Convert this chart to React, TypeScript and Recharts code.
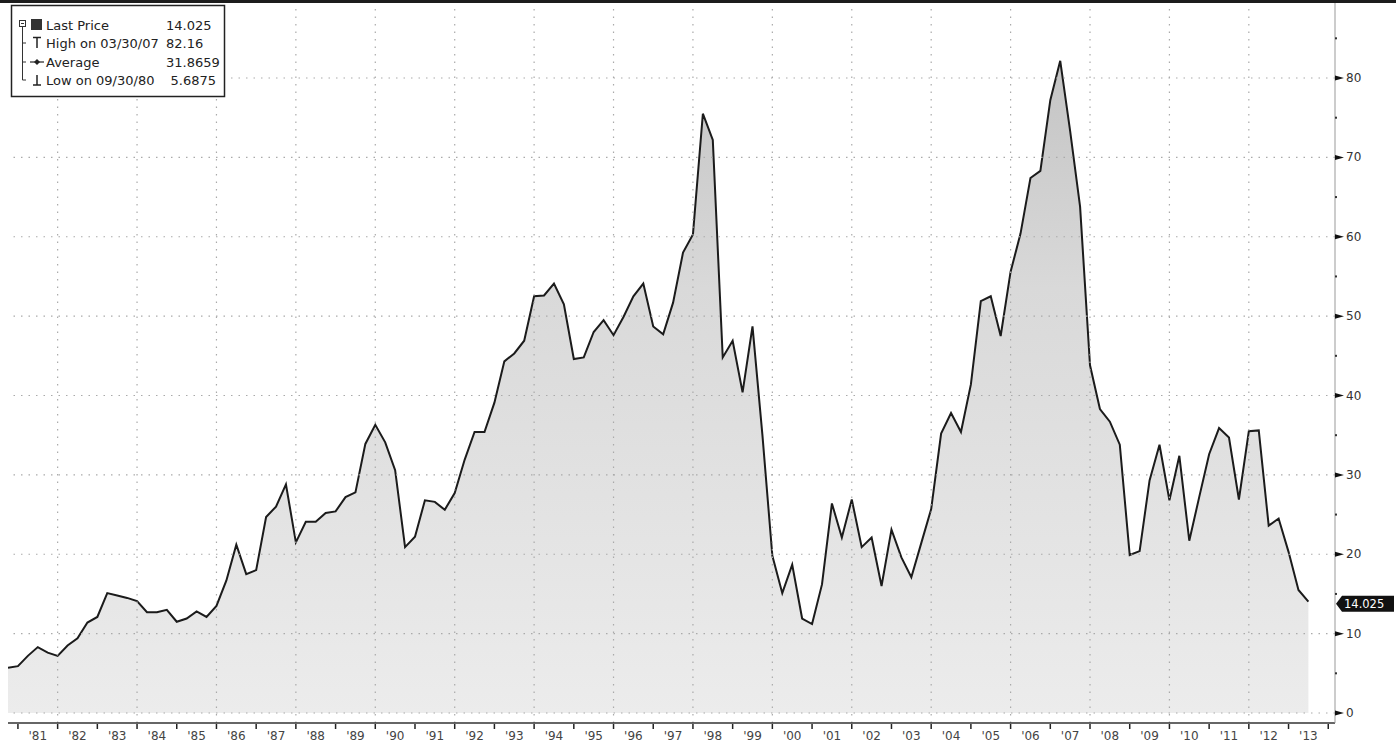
import React from 'react';
import { ComposedChart, Area, XAxis, YAxis, ReferenceLine } from 'recharts';

// quarterly closes, first point is the quarter ending 09/30/80
const firstQuarterEnd = 1980.75;

const prices1980s = [
  5.6875, 5.9, 7.2, 8.3, 7.6, 7.2, 8.5, 9.4, 11.4, 12.1, 15.1, 14.8, 14.5, 14.1, 12.7, 12.7, 13.0, 11.5, 11.9,
  12.8, 12.1, 13.5, 16.7, 21.2, 17.5, 18.0, 24.7, 26.0, 28.8, 21.5, 24.1, 24.1, 25.2, 25.4, 27.2, 27.8, 33.9, 36.3
];
const prices1990s = [
  34.1, 30.6, 20.9, 22.2, 26.8, 26.6, 25.6, 27.7, 31.9, 35.4, 35.4, 39.1, 44.3, 45.3, 46.9, 52.5, 52.6, 54.1, 51.5, 44.6,
  44.8, 48.0, 49.5, 47.6, 49.9, 52.5, 54.1, 48.7, 47.7, 51.7, 58.0, 60.3, 75.5, 72.2, 44.8, 46.9, 40.4, 48.7, 35.0, 19.8
];
const prices2000s = [
  15.1, 18.7, 11.9, 11.2, 16.2, 26.4, 22.1, 26.9, 20.9, 22.1, 16.0, 23.1, 19.6, 17.1, 21.4, 25.7, 35.2, 37.8, 35.4, 41.4,
  51.9, 52.5, 47.5, 55.6, 60.4, 67.4, 68.3, 77.2, 82.16, 73.3, 63.8, 43.8, 38.3, 36.7, 33.8, 19.9, 20.4, 29.3, 33.8, 26.8
];
const prices2010s = [32.4, 21.7, 27.2, 32.6, 35.9, 34.7, 26.9, 35.5, 35.6, 23.6, 24.5, 20.3, 15.5, 14.025];

const averagePrice = '31.8659';

const yearLabels = [
  "'81", "'82", "'83", "'84", "'85", "'86", "'87", "'88", "'89", "'90", "'91", "'92", "'93", "'94", "'95", "'96", "'97",
  "'98", "'99", "'00", "'01", "'02", "'03", "'04", "'05", "'06", "'07", "'08", "'09", "'10", "'11", "'12", "'13"
];
const firstLabelYear = 1981;
const gridYears = [1982, 1984, 1986, 1988, 1990, 1992, 1994, 1996, 1998, 2000, 2002, 2004, 2006, 2008, 2010, 2012];
const majorPriceTicks = [0, 10, 20, 30, 40, 50, 60, 70, 80];
const minorPriceTicks = [5, 15, 25, 35, 45, 55, 65, 75, 85];

const prices = [...prices1980s, ...prices1990s, ...prices2000s, ...prices2010s];
const data = prices.map((price, i) => ({ t: firstQuarterEnd + i / 4, price }));

const lastPrice = prices[prices.length - 1];
const highPrice = Math.max(...prices);
const lowPrice = Math.min(...prices);

const yearBoundaries = [...yearLabels.map((_, i) => firstLabelYear + i), firstLabelYear + yearLabels.length];
const midYears = yearLabels.map((_, i) => firstLabelYear + i + 0.5);
const xTicks = [...yearBoundaries, ...midYears];
const yTicks = [...majorPriceTicks, ...minorPriceTicks];

const font = '"DejaVu Sans", sans-serif';

function renderYearTick(props: any) {
  const { x, y, payload } = props;
  const v = payload.value as number;
  if (Number.isInteger(v)) {
    return <line x1={x} y1={y - 1} x2={x} y2={y + 4} stroke="#222" strokeWidth={1.5} />;
  }
  const label = yearLabels[Math.round(v - firstLabelYear - 0.5)];
  return (
    <text x={x} y={y + 15} textAnchor="middle" fontSize={12} fill="#444" fontFamily={font}>
      {label}
    </text>
  );
}

function renderPriceTick(props: any) {
  const { x, y, payload } = props;
  const v = payload.value as number;
  const ax = x - 2;
  if (v % 10 !== 0) {
    return <rect x={ax} y={y - 1} width={2} height={2} fill="#333" />;
  }
  return (
    <g>
      <polygon points={`${ax},${y - 2.5} ${ax + 9},${y} ${ax},${y + 2.5}`} fill="#111" />
      <text x={ax + 11} y={y} dominantBaseline="central" fontSize={12} fill="#333" fontFamily={font}>
        {v}
      </text>
    </g>
  );
}

function PriceTag(props: any) {
  const { viewBox } = props;
  if (!viewBox) return null;
  const x = viewBox.x + viewBox.width + 1;
  const y = viewBox.y + 2;
  return (
    <g>
      <polygon
        points={`${x},${y} ${x + 6},${y - 8} ${x + 58},${y - 8} ${x + 58},${y + 8} ${x + 6},${y + 8}`}
        fill="#111"
      />
      <text x={x + 8} y={y} dominantBaseline="central" fontSize={11.5} fill="#fff" fontFamily={font}>
        {lastPrice}
      </text>
    </g>
  );
}

function LegendBox() {
  const rows = [25, 43, 62, 80];
  return (
    <svg width={240} height={100} style={{ position: 'absolute', left: 0, top: 0 }}>
      <rect x={11.5} y={5.5} width={213} height={91} fill="#fff" stroke="#222" strokeWidth={1.5} />
      {/* tree */}
      <rect x={19.5} y={20.5} width={6} height={6} fill="none" stroke="#333" />
      <line x1={21} y1={23.5} x2={24} y2={23.5} stroke="#333" />
      <line x1={22.5} y1={27} x2={22.5} y2={rows[3]} stroke="#333" />
      <line x1={22.5} y1={rows[1]} x2={26} y2={rows[1]} stroke="#333" />
      <line x1={22.5} y1={rows[2]} x2={26} y2={rows[2]} stroke="#333" />
      <line x1={22.5} y1={rows[3]} x2={26} y2={rows[3]} stroke="#333" />
      {/* markers */}
      <rect x={31} y={19} width={11} height={11} fill="#333" />
      <line x1={33} y1={37.5} x2={41} y2={37.5} stroke="#222" strokeWidth={1.5} />
      <line x1={37} y1={37.5} x2={37} y2={48} stroke="#222" strokeWidth={1.5} />
      <line x1={30} y1={62} x2={44} y2={62} stroke="#222" strokeWidth={1.2} />
      <polygon points="37,59 40,62 37,65 34,62" fill="#222" />
      <line x1={37} y1={75} x2={37} y2={85} stroke="#222" strokeWidth={1.5} />
      <line x1={33} y1={85} x2={41} y2={85} stroke="#222" strokeWidth={1.5} />
      <g fontFamily={font} fontSize={13} fill="#222" dominantBaseline="central">
        <text x={46} y={rows[0]}>Last Price</text>
        <text x={166} y={rows[0]}>{lastPrice}</text>
        <text x={46} y={rows[1]}>High on 03/30/07</text>
        <text x={166} y={rows[1]}>{highPrice}</text>
        <text x={46} y={rows[2]}>Average</text>
        <text x={166} y={rows[2]}>{averagePrice}</text>
        <text x={46} y={rows[3]}>Low on 09/30/80</text>
        <text x={216} y={rows[3]} textAnchor="end">{lowPrice}</text>
      </g>
    </svg>
  );
}

export default function App(): JSX.Element {
  return (
    <div style={{ position: 'absolute', left: 0, top: 0, width: 1398, height: 743, background: '#fff' }}>
      <ComposedChart width={1398} height={743} data={data} margin={{ top: 3, right: 0, bottom: 0, left: 8 }}>
        <defs>
          <linearGradient id="priceFill" x1="0" y1="0" x2="0" y2="1">
            <stop offset="0%" stopColor="#c4c4c4" />
            <stop offset="35%" stopColor="#d9d9d9" />
            <stop offset="70%" stopColor="#e3e3e3" />
            <stop offset="100%" stopColor="#ececec" />
          </linearGradient>
        </defs>
        <XAxis
          type="number"
          dataKey="t"
          domain={[1980.75, 2014.17]}
          allowDataOverflow
          ticks={xTicks}
          interval={0}
          tickLine={false}
          tickSize={0}
          tick={renderYearTick}
          axisLine={{ stroke: '#333', strokeWidth: 1.5 }}
          height={20}
        />
        <YAxis
          type="number"
          orientation="right"
          domain={[-1.26, 89.45]}
          allowDataOverflow
          ticks={yTicks}
          interval={0}
          tickLine={false}
          tickSize={0}
          tick={renderPriceTick}
          axisLine={{ stroke: '#999' }}
          width={63}
        />
        <Area
          type="linear"
          dataKey="price"
          stroke="#1b1b1b"
          strokeWidth={2}
          fill="url(#priceFill)"
          fillOpacity={1}
          baseValue={0}
          dot={false}
          activeDot={false}
          isAnimationActive={false}
        />
        {majorPriceTicks.map((v) => (
          <ReferenceLine key={`h${v}`} y={v} stroke="#aaa" strokeWidth={1.2} strokeDasharray="1.5 6" />
        ))}
        {gridYears.map((yr) => (
          <ReferenceLine key={`v${yr}`} x={yr} stroke="#aaa" strokeWidth={1.2} strokeDasharray="1.5 6" />
        ))}
        <ReferenceLine y={lastPrice} stroke="none" label={<PriceTag />} />
      </ComposedChart>
      <div style={{ position: 'absolute', left: 0, top: 0, width: 1396, height: 3, background: '#1c1c1c' }} />
      <LegendBox />
    </div>
  );
}
